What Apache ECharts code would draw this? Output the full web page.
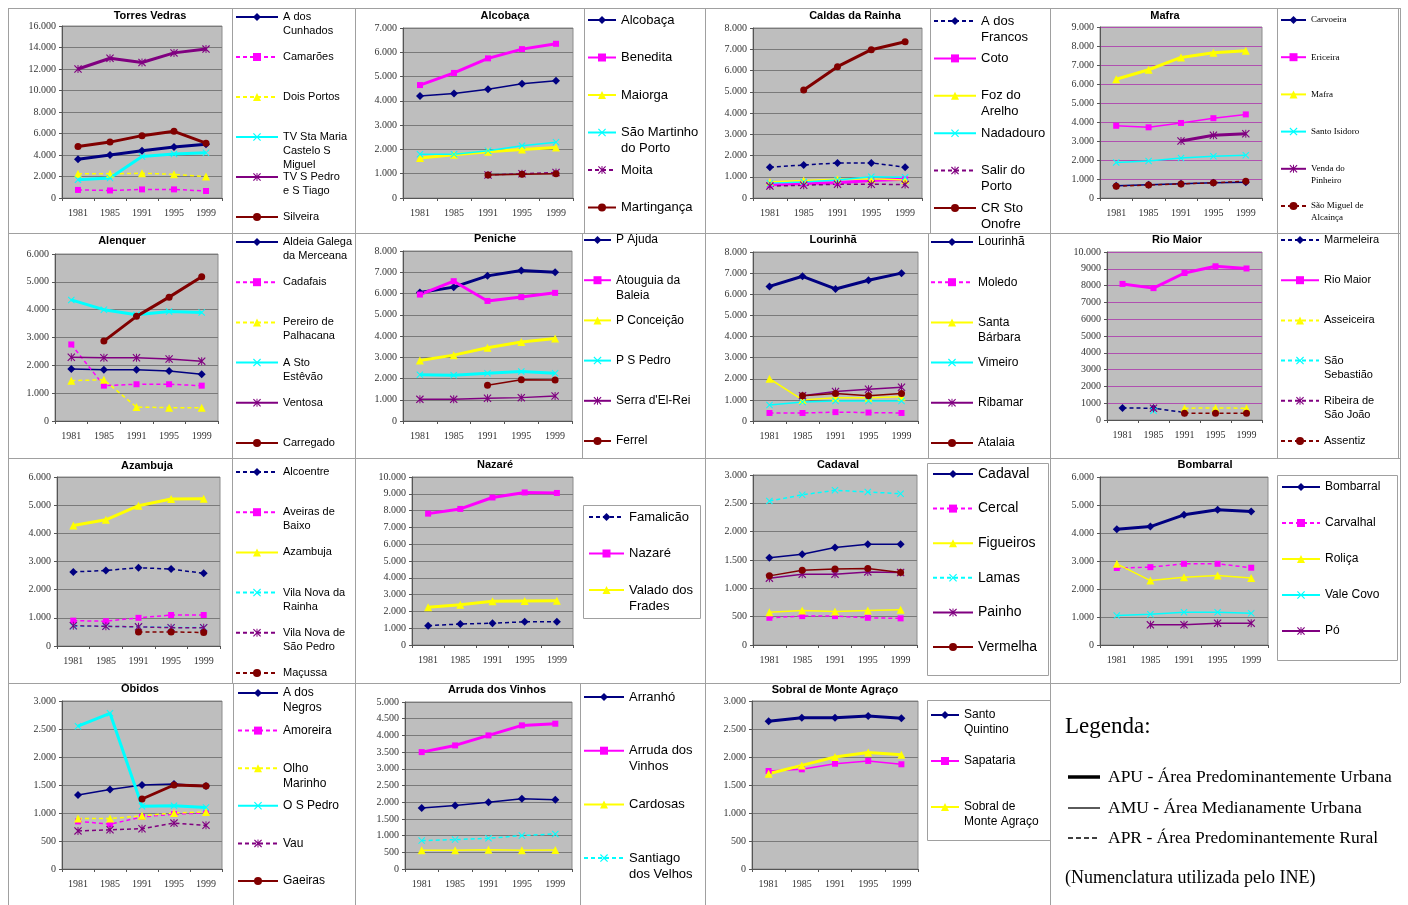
<!DOCTYPE html>
<html>
<head>
<meta charset="utf-8">
<script src="https://cdn.jsdelivr.net/npm/echarts@6/dist/echarts.min.js"></script>
<style>
  body { margin: 0; background: #fff; }
  #page { position: relative; width: 1408px; height: 905px; overflow: hidden; }
  .cell { position: absolute; }
  .rule { position: absolute; background: #a0a0a0; }
</style>
</head>
<body>
<div id="page"></div>
<script>
const years = ['1981', '1985', '1991', '1995', '1999']

// Torres Vedras
const torresNames = ['A dos\nCunhados', 'Camarões', 'Dois Portos', 'TV Sta Maria\nCastelo S\nMiguel', 'TV S Pedro\ne S Tiago', 'Silveira']
const torresValues = [
  [3600, 4000, 4400, 4750, 5000],
  [750, 700, 800, 800, 650],
  [2250, 2250, 2300, 2200, 2000],
  [1700, 1850, 3850, 4100, 4200],
  [12000, 13000, 12600, 13500, 13850],
  [4800, 5200, 5800, 6200, 5100]
]
// Alcobaça
const alcobacaNames = ['Alcobaça', 'Benedita', 'Maiorga', 'São Martinho\ndo Porto', 'Moita', 'Martingança']
const alcobacaValues = [
  [4200, 4300, 4480, 4700, 4830],
  [4650, 5150, 5750, 6130, 6350],
  [1650, 1780, 1900, 2000, 2080],
  [1800, 1800, 1950, 2150, 2300],
  [null, null, 950, 1000, 1050],
  [null, null, 950, 980, 1000]
]
// Caldas da Rainha
const caldasNames = ['A dos\nFrancos', 'Coto', 'Foz do\nArelho', 'Nadadouro', 'Salir do\nPorto', 'CR Sto\nOnofre']
const caldasValues = [
  [1450, 1550, 1650, 1650, 1450],
  [620, 680, 720, 820, 880],
  [750, 820, 880, 900, 850],
  [700, 750, 850, 1000, 980],
  [560, 600, 650, 650, 630],
  [null, 5080, 6180, 6980, 7350]
]
// Mafra
const mafraNames = ['Carvoeira', 'Ericeira', 'Mafra', 'Santo Isidoro', 'Venda do\nPinheiro', 'São Miguel de\nAlcainça']
const mafraValues = [
  [650, 700, 750, 800, 830],
  [3800, 3720, 3950, 4200, 4400],
  [6250, 6750, 7400, 7650, 7750],
  [1870, 1950, 2100, 2200, 2250],
  [null, null, 3000, 3300, 3380],
  [620, 680, 740, 800, 880]
]
// Alenquer
const alenquerNames = ['Aldeia Galega\nda Merceana', 'Cadafais', 'Pereiro de\nPalhacana', 'A Sto\nEstêvão', 'Ventosa', 'Carregado']
const alenquerValues = [
  [1870, 1840, 1840, 1800, 1680],
  [2750, 1270, 1320, 1320, 1270],
  [1450, 1480, 500, 480, 480],
  [4350, 4000, 3820, 3930, 3900],
  [2290, 2270, 2270, 2230, 2150],
  [null, 2870, 3760, 4450, 5180]
]
// Peniche
const penicheNames = ['P Ajuda', 'Atouguia da\nBaleia', 'P Conceição', 'P S Pedro', "Serra d'El-Rei", 'Ferrel']
const penicheValues = [
  [6050, 6300, 6830, 7080, 7000],
  [5950, 6580, 5650, 5830, 6030],
  [2850, 3100, 3450, 3720, 3880],
  [2180, 2150, 2250, 2330, 2250],
  [1020, 1020, 1070, 1100, 1180],
  [null, null, 1680, 1940, 1930]
]
// Lourinhã
const lourinhaNames = ['Lourinhã', 'Moledo', 'Santa\nBárbara', 'Vimeiro', 'Ribamar', 'Atalaia']
const lourinhaValues = [
  [6370, 6850, 6250, 6660, 7000],
  [380, 380, 420, 400, 380],
  [2000, 1000, 1100, 1100, 1150],
  [760, 900, 950, 950, 950],
  [null, 1200, 1400, 1500, 1600],
  [null, 1200, 1300, 1200, 1300]
]
// Rio Maior
const rioMaiorNames = ['Marmeleira', 'Rio Maior', 'Asseiceira', 'São\nSebastião', 'Ribeira de\nSão João', 'Assentiz']
const rioMaiorValues = [
  [720, 700, 450, null, null],
  [8100, 7850, 8750, 9150, 9020],
  [null, null, 700, 720, 700],
  [null, 550, null, null, null],
  [null, 700, null, null, null],
  [null, null, 400, 400, 400]
]
const rioMaiorTicks = ['0', '1000', '2000', '3000', '4000', '5000', '6000', '7000', '8000', '9000', '10.000']
// Azambuja
const azambujaNames = ['Alcoentre', 'Aveiras de\nBaixo', 'Azambuja', 'Vila Nova da\nRainha', 'Vila Nova de\nSão Pedro', 'Maçussa']
const azambujaValues = [
  [2630, 2680, 2780, 2730, 2580],
  [900, 880, 1000, 1100, 1100],
  [4280, 4480, 4980, 5220, 5230],
  [700, 700, 680, 660, 660],
  [720, 700, 680, 650, 650],
  [null, null, 500, 500, 480]
]
// Nazaré
const nazareNames = ['Famalicão', 'Nazaré', 'Valado dos\nFrades']
const nazareValues = [
  [1150, 1250, 1300, 1380, 1380],
  [7820, 8100, 8780, 9080, 9050],
  [2250, 2400, 2600, 2620, 2630]
]
// Cadaval
const cadavalNames = ['Cadaval', 'Cercal', 'Figueiros', 'Lamas', 'Painho', 'Vermelha']
const cadavalValues = [
  [1540, 1600, 1720, 1780, 1780],
  [480, 510, 510, 480, 470],
  [580, 610, 590, 610, 620],
  [2540, 2650, 2730, 2700, 2670],
  [1180, 1250, 1250, 1290, 1280],
  [1220, 1320, 1340, 1350, 1280]
]
// Bombarral
const bombarralNames = ['Bombarral', 'Carvalhal', 'Roliça', 'Vale Covo', 'Pó']
const bombarralValues = [
  [4130, 4230, 4650, 4830, 4770],
  [2750, 2780, 2900, 2900, 2760],
  [2900, 2300, 2420, 2480, 2390],
  [1050, 1100, 1170, 1170, 1130],
  [null, 720, 720, 780, 780]
]
// Óbidos
const obidosNames = ['A dos\nNegros', 'Amoreira', 'Olho\nMarinho', 'O S Pedro', 'Vau', 'Gaeiras']
const obidosValues = [
  [1320, 1420, 1500, 1520, 1480],
  [850, 800, 930, 980, 1000],
  [900, 900, 950, 1000, 1020],
  [2550, 2780, 1120, 1130, 1100],
  [680, 700, 720, 820, 780],
  [null, null, 1250, 1500, 1480]
]
// Arruda dos Vinhos
const arrudaNames = ['Arranhó', 'Arruda dos\nVinhos', 'Cardosas', 'Santiago\ndos Velhos']
const arrudaValues = [
  [1830, 1900, 2000, 2100, 2070],
  [3500, 3700, 4000, 4300, 4350],
  [560, 560, 580, 560, 570],
  [850, 880, 920, 1000, 1050]
]
// Sobral de Monte Agraço
const sobralNames = ['Santo\nQuintino', 'Sapataria', 'Sobral de\nMonte Agraço']
const sobralValues = [
  [2640, 2700, 2700, 2730, 2690],
  [1750, 1780, 1880, 1930, 1870],
  [1700, 1850, 2000, 2080, 2040]
]

const legendLines = [
  'APU - Área Predominantemente Urbana',
  'AMU - Área Medianamente Urbana',
  'APR - Área Predominantemente Rural'
]

const panels = [
  { title: 'Torres Vedras', names: torresNames, values: torresValues, max: 16000, step: 2000 },
  { title: 'Alcobaça', names: alcobacaNames, values: alcobacaValues, max: 7000, step: 1000 },
  { title: 'Caldas da Rainha', names: caldasNames, values: caldasValues, max: 8000, step: 1000 },
  { title: 'Mafra', names: mafraNames, values: mafraValues, max: 9000, step: 1000 },
  { title: 'Alenquer', names: alenquerNames, values: alenquerValues, max: 6000, step: 1000 },
  { title: 'Peniche', names: penicheNames, values: penicheValues, max: 8000, step: 1000 },
  { title: 'Lourinhã', names: lourinhaNames, values: lourinhaValues, max: 8000, step: 1000 },
  { title: 'Rio Maior', names: rioMaiorNames, values: rioMaiorValues, max: 10000, step: 1000, ticks: rioMaiorTicks },
  { title: 'Azambuja', names: azambujaNames, values: azambujaValues, max: 6000, step: 1000 },
  { title: 'Nazaré', names: nazareNames, values: nazareValues, max: 10000, step: 1000 },
  { title: 'Cadaval', names: cadavalNames, values: cadavalValues, max: 3000, step: 500 },
  { title: 'Bombarral', names: bombarralNames, values: bombarralValues, max: 6000, step: 1000 },
  { title: 'Óbidos', names: obidosNames, values: obidosValues, max: 3000, step: 500 },
  { title: 'Arruda dos Vinhos', names: arrudaNames, values: arrudaValues, max: 5000, step: 500 },
  { title: 'Sobral de Monte Agraço', names: sobralNames, values: sobralValues, max: 3000, step: 500 }
]

// layout: cell on the page, grid inside the cell, title centre, legend items, legend box
// kinds: U = thick solid (APU), M = thin solid (AMU), R = dashed (APR)
const layouts = [
  { cell: [8, 8, 347, 225], grid: [54, 18, 160, 172], title: [142, 9], leg: { x: 227, y0: 9, step: 40, w: 42, font: 11 }, box: [224, 0, 123, 225], kinds: 'URRUUU' },
  { cell: [355, 8, 350, 225], grid: [48, 20, 170, 170], title: [150, 9], leg: { x: 232, y0: 12, step: 37.5, w: 28, font: 13 }, box: [229, 0, 121, 225], kinds: 'MUUMRM' },
  { cell: [705, 8, 345, 225], grid: [48, 20, 169, 170], title: [150, 9], leg: { x: 228, y0: 13, step: 37.4, w: 42, font: 13 }, box: [225, 0, 120, 225], kinds: 'RUMMRU' },
  { cell: [1050, 8, 350, 225], grid: [50, 19, 162, 171], title: [115, 9], leg: { x: 230, y0: 12, step: 37.2, w: 25, font: 9, serif: true }, box: [227, 0, 121, 225], kinds: 'MMUMUR', gridColor: '#b050b0' },
  { cell: [8, 233, 347, 225], grid: [47, 21, 163, 167], title: [114, 9], leg: { x: 227, y0: 9, step: 40.2, w: 42, font: 11 }, box: [224, 0, 123, 225], kinds: 'MRRUMU' },
  { cell: [355, 233, 350, 225], grid: [48, 18, 169, 170], title: [140, 7], leg: { x: 228, y0: 7, step: 40.2, w: 27, font: 12 }, box: [227, 0, 123, 225], kinds: 'UUUUMM' },
  { cell: [705, 233, 345, 225], grid: [48, 19, 165, 169], title: [128, 8], leg: { x: 225, y0: 9, step: 40.2, w: 42, font: 12 }, box: [223, 0, 122, 225], kinds: 'URMMMM' },
  { cell: [1050, 233, 350, 225], grid: [57, 19, 155, 168], title: [127, 8], leg: { x: 230, y0: 7, step: 40.2, w: 38, font: 11 }, box: [227, 0, 121, 225], kinds: 'RURRRR', gridColor: '#b050b0' },
  { cell: [8, 458, 347, 225], grid: [49, 19, 163, 169], title: [139, 9], leg: { x: 227, y0: 14, step: 40.2, w: 42, font: 11 }, box: [224, 0, 123, 225], kinds: 'RRURRR' },
  { cell: [355, 458, 350, 225], grid: [57, 19, 161, 168], title: [140, 8], leg: { x: 233, y0: 59, step: 36.5, w: 35, font: 13 }, box: [228, 47, 117, 113], kinds: 'RUU' },
  { cell: [705, 458, 345, 225], grid: [48, 17, 164, 170], title: [133, 8], leg: { x: 227, y0: 16, step: 34.6, w: 40, font: 14 }, box: [222, 5, 121, 212], kinds: 'MRMRMM' },
  { cell: [1050, 458, 350, 225], grid: [50, 19, 168, 168], title: [155, 8], leg: { x: 231, y0: 29, step: 36, w: 38, font: 12 }, box: [227, 17, 120, 185], kinds: 'URMMM' },
  { cell: [8, 683, 347, 222], grid: [54, 18, 160, 168], title: [132, 7], leg: { x: 229, y0: 10, step: 37.6, w: 40, font: 12 }, box: [225, 0, 122, 222], kinds: 'MRRURU' },
  { cell: [355, 683, 350, 222], grid: [50, 19, 167, 167], title: [142, 8], leg: { x: 228, y0: 14, step: 53.7, w: 40, font: 13 }, box: [225, 0, 125, 222], kinds: 'MUMR' },
  { cell: [705, 683, 345, 222], grid: [47, 18, 166, 168], title: [130, 8], leg: { x: 225, y0: 32, step: 46, w: 28, font: 12 }, box: [222, 17, 123, 140], kinds: 'UMU' }
]

const SANS = '"Liberation Sans", Arial, sans-serif'
const SERIF = '"Liberation Serif", "Times New Roman", serif'
const X_PATH = 'path://M1,0L5,4L9,0L10,1L6,5L10,9L9,10L5,6L1,10L0,9L4,5L0,1Z'
const STAR_PATH = X_PATH + 'M4.4,0L5.6,0L5.6,10L4.4,10Z'
const colors = ['#000080', '#ff00ff', '#ffff00', '#00ffff', '#800080', '#800000']
const symbols = ['diamond', 'rect', 'triangle', X_PATH, STAR_PATH, 'circle']
const symbolSizes = [8, 6, 8, 7, 8, 7]
const lineKinds = {
  U: { width: 3, type: 'solid' },
  M: { width: 1.5, type: 'solid' },
  R: { width: 1.5, type: [4, 3] }
}

const page = document.getElementById('page')

function fmt(v) {
  if (v < 1000) return String(v)
  return Math.floor(v / 1000) + '.' + String(v % 1000).padStart(3, '0')
}

function addRule(x, y, w, h) {
  const d = document.createElement('div')
  d.className = 'rule'
  d.style.cssText = `left:${x}px;top:${y}px;width:${w}px;height:${h}px`
  page.appendChild(d)
}

// cell borders
;[8, 233, 458, 683].forEach(y => addRule(8, y, 1392, 1))
;[8, 355, 705, 1050].forEach(x => addRule(x, 8, 1, 897))
addRule(1400, 8, 1, 675)

function makeCell(c) {
  const d = document.createElement('div')
  d.className = 'cell'
  d.style.cssText = `left:${c[0]}px;top:${c[1]}px;width:${c[2]}px;height:${c[3]}px`
  page.appendChild(d)
  return echarts.init(d)
}

panels.forEach((p, k) => {
  const L = layouts[k]
  const chart = makeCell(L.cell)
  const lg = L.leg

  // one legend per item, so the marker sits on the first text line like in Excel
  const legends = p.names.map((name, i) => {
    const n = name.split('\n').length
    const lh = lg.font + 3
    const iconY = lg.y0 + i * lg.step
    return {
      data: [name],
      orient: 'vertical',
      left: lg.x,
      top: iconY - (2 * n - 1) * lh / 2,
      padding: 0,
      itemWidth: lg.w,
      itemHeight: 10,
      selectedMode: false,
      formatter: s => '\n'.repeat(n - 1) + s,
      textStyle: {
        fontFamily: lg.serif ? SERIF : SANS,
        fontSize: lg.font,
        lineHeight: lh,
        color: '#000'
      }
    }
  })

  const series = p.names.map((name, i) => {
    const kind = lineKinds[L.kinds[i]]
    return {
      name: name,
      type: 'line',
      data: p.values[i],
      connectNulls: false,
      symbol: symbols[i],
      symbolSize: symbolSizes[i],
      lineStyle: { color: colors[i], width: kind.width, type: kind.type },
      itemStyle: { color: colors[i] },
      emphasis: { disabled: true }
    }
  })

  chart.setOption({
    animation: false,
    textStyle: { fontFamily: SANS },
    title: {
      text: p.title,
      left: L.title[0],
      top: L.title[1] - 7,
      textAlign: 'center',
      padding: 0,
      textStyle: { fontFamily: SANS, fontSize: 11, fontWeight: 'bold', color: '#000' }
    },
    legend: legends,
    grid: {
      left: L.grid[0], top: L.grid[1], width: L.grid[2], height: L.grid[3],
      show: true, backgroundColor: '#bebebe', borderColor: '#8c8c8c', borderWidth: 1,
      containLabel: false, outerBoundsMode: 'none'
    },
    xAxis: {
      type: 'category',
      data: years,
      boundaryGap: true,
      axisLine: { show: true, lineStyle: { color: '#555', width: 1 } },
      axisTick: { show: true, length: 3, lineStyle: { color: '#555' } },
      axisLabel: { fontFamily: SERIF, fontSize: 10, color: '#333', margin: 10, interval: 0 },
      splitLine: { show: false }
    },
    yAxis: {
      type: 'value',
      min: 0,
      max: p.max,
      interval: p.step,
      axisLine: { show: true, lineStyle: { color: '#555', width: 1 } },
      axisTick: { show: true, length: 3, lineStyle: { color: '#555' } },
      axisLabel: {
        fontFamily: SERIF, fontSize: 10, color: '#333', margin: 6,
        formatter: v => p.ticks ? p.ticks[v / p.step] : fmt(v)
      },
      splitLine: { show: true, lineStyle: { color: L.gridColor || '#7a7a7a', width: 1 } }
    },
    graphic: [{
      type: 'rect',
      shape: { x: L.box[0] + 0.5, y: L.box[1] + 0.5, width: L.box[2], height: L.box[3] },
      style: { fill: 'none', stroke: '#a0a0a0', lineWidth: 1 },
      silent: true
    }],
    series: series
  })
})

// legend panel
const keyChart = makeCell([1050, 683, 358, 222])
keyChart.setOption({
  animation: false,
  graphic: [
    { type: 'text', x: 15, y: 44, style: { text: 'Legenda:', font: '23px ' + SERIF, fill: '#000', verticalAlign: 'middle' } },
    { type: 'line', shape: { x1: 18, y1: 94, x2: 50, y2: 94 }, style: { stroke: '#000', lineWidth: 3.5 } },
    { type: 'text', x: 58, y: 94, style: { text: legendLines[0], font: '17.5px ' + SERIF, fill: '#000', verticalAlign: 'middle' } },
    { type: 'line', shape: { x1: 18, y1: 125, x2: 50, y2: 125 }, style: { stroke: '#000', lineWidth: 1.3 } },
    { type: 'text', x: 58, y: 125, style: { text: legendLines[1], font: '17.5px ' + SERIF, fill: '#000', verticalAlign: 'middle' } },
    { type: 'line', shape: { x1: 18, y1: 155, x2: 50, y2: 155 }, style: { stroke: '#000', lineWidth: 1.3, lineDash: [5, 3] } },
    { type: 'text', x: 58, y: 155, style: { text: legendLines[2], font: '17.5px ' + SERIF, fill: '#000', verticalAlign: 'middle' } },
    { type: 'text', x: 15, y: 195, style: { text: '(Numenclatura utilizada pelo INE)', font: '18px ' + SERIF, fill: '#000', verticalAlign: 'middle' } }
  ]
})
</script>
</body>
</html>
